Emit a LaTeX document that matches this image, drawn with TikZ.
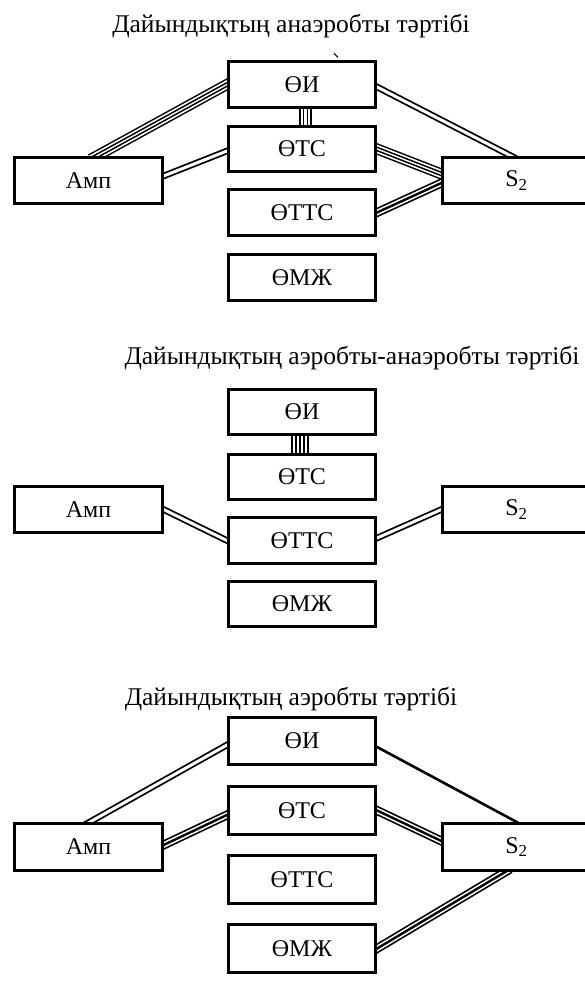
\documentclass[tikz,border=0pt]{standalone}
\usepackage{fontspec}
\setmainfont{Liberation Serif}
\usetikzlibrary{calc,backgrounds}
\newcommand\boxfont{\fontsize{24}{28}\selectfont}
\newcommand\titlefont{\fontsize{25.5}{30}\selectfont}
\newcommand\mylink[3]{\draw[#1] ($(#2)!-6pt!(#3)$) -- ($(#3)!-6pt!(#2)$);}
\begin{document}
\begin{tikzpicture}[x=1pt,y=-1pt,
  box/.style={draw, line width=2.7pt, fill=white, minimum width=147.5pt, minimum height=45.5pt, inner sep=0pt, font=\boxfont},
  boxb/.style={box, minimum height=47.5pt},
  ttl/.style={font=\titlefont, anchor=base, inner sep=0pt},
  sgl/.style={draw=black, line width=2.6pt},
  dbl/.style={draw=black, line width=6.6pt, postaction={draw=white, line width=3pt}},
  trpl/.style={draw=black, line width=9pt, postaction={draw=white, line width=5.6pt}, postaction={draw=black, line width=2.4pt}},
  quad/.style={draw=black, line width=11pt, postaction={draw=white, line width=8pt}, postaction={draw=black, line width=4.6pt}, postaction={draw=white, line width=1.4pt}},
  bar/.style={draw=black, line width=1.5pt}]
\useasboundingbox (0,0) rectangle (585,981);

% ---------- diagram 1 ----------
\node[ttl] (t1) at (291,33) {Дайындықтың анаэробты тәртібі};
\node[box] (oi1) at (302,84.5) {ӨИ};
\node[box] (otc1) at (302,149) {ӨТС};
\node[box] (ottc1) at (302,212.5) {ӨТТС};
\node[box] (omj1) at (302,277.5) {ӨМЖ};
\node[box] (amp1) at (88.5,180.5) {Амп};
\node[box] (s2a) at (516.5,180.5) {S\textsubscript{2}};
\coordinate (a1p) at ($(amp1.north)+(7.5,0)$);
\coordinate (b1p) at ($(amp1.east)+(0,-4.5)$);
\coordinate (b1q) at ($(otc1.west)+(0,2)$);
\coordinate (c1p) at ($(oi1.east)+(0,2.5)$);
\coordinate (c1q) at ($(s2a.north)+(-4.5,0)$);
\coordinate (d1q) at ($(s2a.west)+(0,-6.5)$);
\coordinate (e1q) at ($(s2a.west)+(0,2.5)$);
\draw[line width=1pt] ($(oi1.north)+(32,-7)$) -- ($(oi1.north)+(36,-3)$);

% ---------- diagram 2 ----------
\node[ttl] (t2) at (352,364) {Дайындықтың аэробты-анаэробты тәртібі};
\node[box] (oi2) at (302,412) {ӨИ};
\node[box] (otc2) at (302,477) {ӨТС};
\node[box] (ottc2) at (302,540.5) {ӨТТС};
\node[box] (omj2) at (302,604) {ӨМЖ};
\node[box] (amp2) at (88.5,509.5) {Амп};
\node[box] (s2b) at (516.5,509.5) {S\textsubscript{2}};
\coordinate (b2p) at ($(ottc2.east)+(0,-2.5)$);

% ---------- diagram 3 ----------
\node[ttl] (t3) at (291,705) {Дайындықтың аэробты тәртібі};
\node[boxb] (oi3) at (302,741) {ӨИ};
\node[boxb] (otc3) at (302,810.5) {ӨТС};
\node[boxb] (ottc3) at (302,879.5) {ӨТТС};
\node[boxb] (omj3) at (302,948.5) {ӨМЖ};
\node[boxb] (amp3) at (88.5,847) {Амп};
\node[boxb] (s2c) at (516.5,847) {S\textsubscript{2}};
\coordinate (a3p) at ($(amp3.north)+(1.5,0)$);
\coordinate (a3q) at ($(oi3.west)+(0,4)$);
\coordinate (b3p) at ($(amp3.east)+(0,-2)$);
\coordinate (b3q) at ($(otc3.west)+(0,4.5)$);
\coordinate (c3p) at ($(oi3.east)+(0,6)$);
\coordinate (d3q) at ($(s2c.west)+(0,-6)$);
\coordinate (e3p) at ($(s2c.south)+(-11.5,0)$);

\begin{scope}[on background layer]
  % diagram 1
  \mylink{quad}{a1p}{oi1.west}
  \mylink{dbl}{b1p}{b1q}
  \mylink{dbl}{c1p}{c1q}
  \mylink{quad}{otc1.east}{d1q}
  \mylink{trpl}{ottc1.east}{e1q}
  \foreach \dx in {-2,1.7,5.3,9}
    \draw[bar] ($(oi1.south)+(\dx,0)$) -- ($(otc1.north)+(\dx,0)$);
  % diagram 2
  \mylink{dbl}{amp2.east}{ottc2.west}
  \mylink{dbl}{b2p}{s2b.west}
  \foreach \dx in {-10,-6,-2,2,6}
    \draw[bar] ($(oi2.south)+(\dx,0)$) -- ($(otc2.north)+(\dx,0)$);
  % diagram 3
  \mylink{dbl}{a3p}{a3q}
  \mylink{trpl}{b3p}{b3q}
  \mylink{sgl}{c3p}{s2c.north}
  \mylink{trpl}{otc3.east}{d3q}
  \mylink{trpl}{e3p}{omj3.east}
\end{scope}
\end{tikzpicture}
\end{document}
